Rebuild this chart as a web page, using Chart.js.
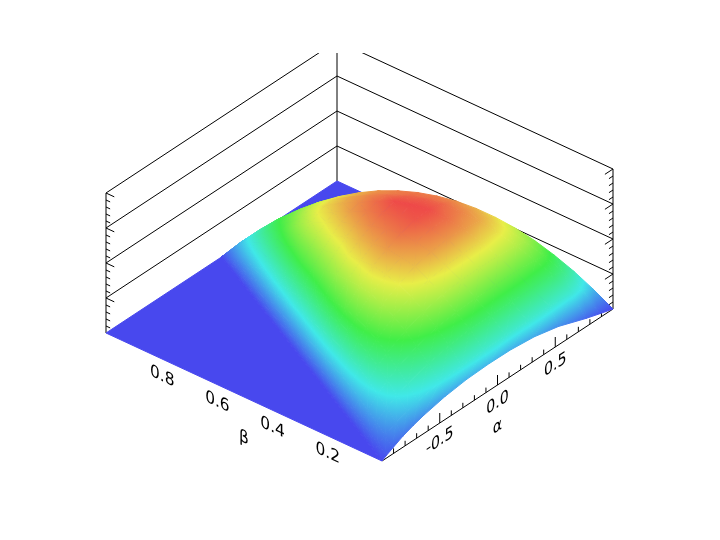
<!DOCTYPE html>
<html>
<head>
<meta charset="utf-8">
<title>Surface</title>
<script src="https://cdn.jsdelivr.net/npm/chart.js@4"></script>
<style>
html, body { margin: 0; padding: 0; background: #fff; }
canvas { display: block; }
</style>
</head>
<body>
<canvas id="surfaceChart" width="720" height="540"></canvas>
<script>
// tick labels
const alphaTicks = [-0.5, 0.0, 0.5];
const betaTicks = [0.2, 0.4, 0.6, 0.8];
const alphaMinor = [-0.9, -0.8, -0.7, -0.6, -0.4, -0.3, -0.2, -0.1, 0.1, 0.2, 0.3, 0.4, 0.6, 0.7, 0.8, 0.9];
const zLevels = [35, 70, 105, 140];
const zMinor = [7, 14, 21, 28, 42, 49, 56, 63, 77, 84, 91, 98, 112, 119, 126, 133];

// surface: rows go along beta, columns run across the triangle from the
// alpha = beta - 1 side (0) to the alpha = 1 - beta side (1)
const colPos = [0, 0.02, 0.05, 0.1, 0.15, 0.2, 0.3, 0.4, 0.5, 0.6, 0.7, 0.8, 0.9, 0.95, 1];
const edgeBeta = [0, 0.002, 0.006, 0.013, 0.019, 0.023, 0.029, 0.032, 0.032, 0.034, 0.029, 0.024, 0.011, 0.005, 0];
const rowBeta = [0, 0.05, 0.1, 0.15, 0.2, 0.25, 0.3, 0.35, 0.4, 0.45, 0.5, 0.55, 0.6, 0.65, 0.7, 0.75, 0.8, 0.85, 0.9, 0.95, 1];

const zEdge = [0, 2, 4, 7, 9, 11, 14, 16, 17, 16, 15, 11, 5, 2.5, 0];
const z05 = [0, 3.6, 8, 13.5, 17.4, 20.6, 24.9, 27.6, 28.9, 29, 29, 29, 27.4, 23.5, 17];
const z10 = [0, 5.2, 11.4, 19.1, 24.9, 29.5, 36.1, 40.4, 42.6, 43, 43, 43, 42.4, 39, 32.5];
const z15 = [0, 6.1, 14, 23.6, 31.1, 36.6, 45.1, 50.6, 53.9, 55, 55, 55, 53.9, 51.7, 46];
const z20 = [0, 7, 16.4, 27.5, 36.2, 42.9, 53.3, 60.3, 65, 66.7, 67, 67, 65.3, 63, 58];
const z25 = [0, 7.7, 17.7, 30, 40, 47.7, 59.3, 67.8, 73, 76.2, 77, 77, 75, 72.4, 67.9];
const z30 = [0, 8.2, 18.5, 31.8, 43, 50.7, 64, 73.1, 80, 84.3, 86, 86, 83.4, 80.4, 76];
const z35 = [0, 8.3, 18.4, 32.2, 43.2, 52.4, 66.2, 75.9, 83.3, 88.3, 91.5, 92, 88.8, 86, 82.4];
const z40 = [0, 7.8, 18.4, 32, 43.2, 52.4, 66.4, 77.1, 85.4, 91.2, 95.5, 97, 93.1, 90.2, 87];
const z45 = [0, 7.4, 17.3, 30.7, 41.6, 50.5, 64.4, 75.2, 83.7, 90, 94.5, 97.5, 94.5, 91.6, 89.6];
const z50 = [0, 7, 16, 29, 39, 48, 62, 73, 81, 88, 93, 97, 94, 92, 90.5];
const z55 = [0, 6.3, 14.5, 26.5, 36, 44.5, 58, 68.5, 77, 84, 89.5, 92.6, 91.9, 90.1, 89.6];
const z60 = [0, 5.6, 13, 24.5, 33, 41, 54, 64, 73, 79.5, 85, 87.8, 88.4, 87.5, 87];
const z65 = [0, 5, 11.5, 21.5, 30, 37, 50, 59, 67.5, 74.5, 79.2, 82.5, 83.7, 82.4, 82.4];
const z70 = [0, 4.2, 10, 19, 26.5, 33, 44.5, 54, 62, 68.5, 73.4, 76.3, 77, 76.5, 76];
const z75 = [0, 3.4, 8.2, 15.5, 22.3, 28.1, 37.8, 46.6, 53.8, 60.1, 63.9, 67.3, 68.7, 68.6, 67.9];
const z80 = [0, 2.6, 6.5, 12, 17.7, 22.8, 30.7, 38, 44.2, 49, 52.7, 56, 58, 58.4, 58];
const z85 = [0, 1.9, 4.7, 8.9, 12.9, 16.9, 23.6, 28.9, 33.8, 38, 42, 44.7, 46.5, 47, 46.2];
const z90 = [0, 1.2, 3, 5.9, 8.4, 11, 16, 20, 23.4, 26.4, 29.2, 31, 32.5, 33, 32.5];
const z95 = [0, 0.6, 1.4, 2.8, 4.2, 5.6, 8, 9.7, 11.8, 13.8, 15.5, 16.5, 17.5, 17.5, 17.2];
const z100 = [0, 0, 0, 0, 0, 0, 0, 0, 0, 0, 0, 0, 0, 0, 0];
const zRows = [zEdge, z05, z10, z15, z20, z25, z30, z35, z40, z45, z50, z55, z60, z65, z70, z75, z80, z85, z90, z95, z100];

// colour map
const colourLevels = [0, 0.25, 0.5, 0.75, 1];
const colours = ['#4848EE', '#40E8E8', '#40EE48', '#E8EE48', '#EE4848'];
const zTop = 97.5;
const floorColour = '#4848EE';
const lineColour = '#000000';

// oblique view of the box, the scales are in canvas units
function project(alpha, beta, z) {
    const a = (alpha + 1) / 2;
    return {
        x: 382 + a * 231 - beta * 276,
        y: 461 - a * 152 - beta * 128 - z
    };
}

function surfacePoint(r, c) {
    const beta = r === 0 ? edgeBeta[c] : rowBeta[r];
    const alpha = (1 - beta) * (2 * colPos[c] - 1);
    return { pos: project(alpha, beta, zRows[r][c]), floor: project(alpha, beta, 0), z: zRows[r][c] };
}

function hexToRgb(hex) {
    return [1, 3, 5].map(i => parseInt(hex.substr(i, 2), 16));
}

function colourAt(z) {
    const f = Math.max(0, Math.min(1, z / zTop));
    let i = 0;
    while (i < colourLevels.length - 2 && f > colourLevels[i + 1]) i++;
    const t = (f - colourLevels[i]) / (colourLevels[i + 1] - colourLevels[i]);
    const p = hexToRgb(colours[i]);
    const q = hexToRgb(colours[i + 1]);
    const rgb = p.map((v, k) => Math.round(v + (q[k] - v) * t));
    return 'rgb(' + rgb.join(',') + ')';
}

// z is linear on a triangle, so one linear gradient along its slope paints it
function triangleFill(chart, tri) {
    const sx = chart.scales.x;
    const sy = chart.scales.y;
    const p = tri.map(v => ({ x: sx.getPixelForValue(v.pos.x), y: sy.getPixelForValue(v.pos.y), z: v.z }));
    const e1x = p[1].x - p[0].x, e1y = p[1].y - p[0].y, d1 = p[1].z - p[0].z;
    const e2x = p[2].x - p[0].x, e2y = p[2].y - p[0].y, d2 = p[2].z - p[0].z;
    const det = e1x * e2y - e2x * e1y;
    const zMin = Math.min(p[0].z, p[1].z, p[2].z);
    const zMax = Math.max(p[0].z, p[1].z, p[2].z);
    if (!isFinite(det) || Math.abs(det) < 1e-6 || zMax - zMin < 1e-6) return colourAt(zMin);

    const gx = (d1 * e2y - d2 * e1y) / det;
    const gy = (d2 * e1x - d1 * e2x) / det;
    const g2 = gx * gx + gy * gy;
    const at = z => ({ x: p[0].x + gx * (z - p[0].z) / g2, y: p[0].y + gy * (z - p[0].z) / g2 });
    const start = at(zMin);
    const end = at(zMax);
    if (![start.x, start.y, end.x, end.y].every(isFinite)) return colourAt(zMin);
    const gradient = chart.ctx.createLinearGradient(start.x, start.y, end.x, end.y);
    gradient.addColorStop(0, colourAt(zMin));
    colourLevels.forEach(level => {
        const z = level * zTop;
        if (z > zMin && z < zMax) gradient.addColorStop((z - zMin) / (zMax - zMin), colourAt(z));
    });
    gradient.addColorStop(1, colourAt(zMax));
    return gradient;
}

function lineDataset(points) {
    return {
        data: points,
        showLine: true,
        fill: false,
        borderColor: lineColour,
        borderWidth: 1,
        pointRadius: 0,
        tension: 0
    };
}

function buildSurface() {
    const triangles = [];
    for (let r = 0; r < zRows.length - 1; r++) {
        for (let c = 0; c < colPos.length - 1; c++) {
            const a = surfacePoint(r, c);
            const b = surfacePoint(r, c + 1);
            const d = surfacePoint(r + 1, c);
            const e = surfacePoint(r + 1, c + 1);
            triangles.push([a, b, e]);
            if (r < zRows.length - 2) triangles.push([a, e, d]);
        }
    }
    // nearest to the viewer first, Chart.js paints the last dataset first
    triangles.sort((s, t) => depth(t) - depth(s));
    return triangles.map(tri => ({
        data: [tri[0].pos, tri[1].pos, tri[2].pos, tri[0].pos],
        showLine: true,
        fill: 'shape',
        backgroundColor: ctx => triangleFill(ctx.chart, tri),
        borderColor: ctx => triangleFill(ctx.chart, tri),
        borderWidth: 1,
        pointRadius: 0,
        tension: 0
    }));
}

function depth(tri) {
    return tri[0].floor.y + tri[1].floor.y + tri[2].floor.y;
}

function buildFrame() {
    const sets = [];
    // back walls
    zLevels.forEach(z => {
        sets.push(lineDataset([project(-1, 1, z), project(1, 1, z), project(1, 0, z)]));
    });
    sets.push(lineDataset([project(-1, 1, 0), project(-1, 1, 140)]));
    sets.push(lineDataset([project(1, 1, 0), project(1, 1, 140)]));
    sets.push(lineDataset([project(1, 0, 0), project(1, 0, 140)]));
    // wall ticks
    zLevels.forEach(z => {
        sets.push(lineDataset([project(-1, 1, z), project(-1, 0.97, z)]));
        sets.push(lineDataset([project(1, 0, z), project(0.93, 0, z)]));
    });
    zMinor.forEach(z => {
        sets.push(lineDataset([project(-1, 1, z), project(-1, 0.985, z)]));
        sets.push(lineDataset([project(1, 0, z), project(0.965, 0, z)]));
    });
    // alpha axis
    sets.push(lineDataset([project(-1, 0, 0), project(1, 0, 0)]));
    alphaTicks.forEach(a => sets.push(lineDataset([project(a, 0, 0), project(a, 0, 10)])));
    alphaMinor.forEach(a => sets.push(lineDataset([project(a, 0, 0), project(a, 0, 5)])));
    return sets;
}

function floorDataset(corners) {
    return {
        data: corners.concat([corners[0]]),
        showLine: true,
        fill: 'shape',
        backgroundColor: floorColour,
        borderColor: floorColour,
        borderWidth: 1,
        pointRadius: 0,
        tension: 0
    };
}

function drawSlanted(chart, text, pos, slope) {
    const ctx = chart.ctx;
    const px = chart.scales.x.getPixelForValue(pos.x);
    const py = chart.scales.y.getPixelForValue(pos.y);
    ctx.save();
    ctx.setTransform(slope[0], slope[1], 0, 1, px, py);
    ctx.font = '17px "DejaVu Sans"';
    ctx.fillStyle = '#000000';
    ctx.textAlign = 'center';
    ctx.textBaseline = 'middle';
    ctx.fillText(text, 0, 0);
    ctx.restore();
}

const axisLabels = {
    id: 'axisLabels',
    afterDatasetsDraw(chart) {
        const alphaSlope = [0.835, -0.55];
        const betaSlope = [0.907, 0.421];
        alphaTicks.forEach(a => {
            const p = project(a, 0, 0);
            drawSlanted(chart, a.toFixed(1), { x: p.x, y: p.y + 18 }, alphaSlope);
        });
        betaTicks.forEach(b => {
            const p = project(-1, b, 0);
            drawSlanted(chart, b.toFixed(1), { x: p.x + 1, y: p.y + 18 }, betaSlope);
        });
        const pa = project(0, 0, 0);
        drawSlanted(chart, 'α', { x: pa.x, y: pa.y + 42 }, alphaSlope);
        const pb = project(-1, 0.5, 0);
        drawSlanted(chart, 'β', { x: pb.x, y: pb.y + 41 }, betaSlope);
    }
};

// the floor is only there where the surface is flat at zero
const floorFront = floorDataset([project(-1, 0, 0), project(0, 1, 0), project(-1, 1, 0)]);
const floorBack = floorDataset([project(0, 1, 0), project(1, 0, 0), project(1, 1, 0)]);

new Chart(document.getElementById('surfaceChart').getContext('2d'), {
    type: 'scatter',
    data: { datasets: buildSurface().concat([floorFront, floorBack], buildFrame()) },
    options: {
        responsive: false,
        animation: false,
        events: [],
        layout: { padding: { top: 53 } },
        plugins: { legend: { display: false }, tooltip: { enabled: false } },
        scales: {
            x: { type: 'linear', min: 0, max: 720, display: false },
            y: { type: 'linear', min: 53, max: 540, reverse: true, display: false }
        }
    },
    plugins: [axisLabels]
});
</script>
</body>
</html>
